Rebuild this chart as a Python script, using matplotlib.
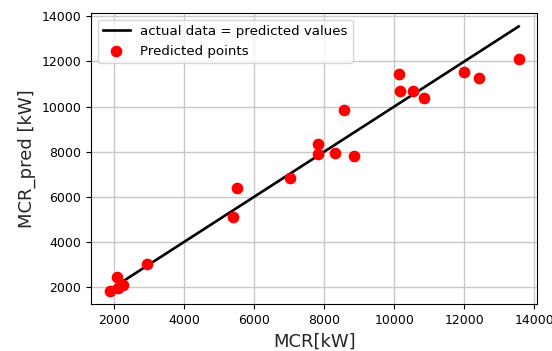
import matplotlib.pyplot as plt
import numpy as np

# values
mcr_actual = np.array([1885, 2077, 2095, 2238, 2937, 5401, 5516, 7014, 7825, 7825,
                       8312, 8839, 8569, 10145, 10174, 10546, 10844, 11990, 12420, 13554])
mcr_pred = np.array([1836, 2430, 1942, 2075, 3021, 5095, 6409, 6826, 8331, 7892,
                     7950, 7803, 9845, 11457, 10689, 10702, 10392, 11515, 11280, 12092])

fig = plt.figure(figsize=(5.52, 3.51), dpi=100)
ax = fig.add_axes([0.165, 0.134, 0.808, 0.829])

lims = np.array([mcr_actual.min(), mcr_actual.max()])
ax.plot(lims, lims, '-k', lw=1.9, label='actual data = predicted values')
ax.scatter(mcr_actual, mcr_pred, s=55, color='red', label='Predicted points', zorder=3)

ax.set_xlim(1340, 14080)
ax.set_ylim(1245, 14150)
ax.set_xticks(np.arange(2000, 14001, 2000))
ax.set_yticks(np.arange(2000, 14001, 2000))
ax.tick_params(labelsize=9)
ax.set_xlabel('MCR[kW]', fontsize=13, color='#262626')
ax.set_ylabel('MCR_pred [kW]', fontsize=13, color='#262626')
ax.grid(color='#c8c8c8', lw=1)
ax.set_axisbelow(True)
ax.legend(loc='upper left', fontsize=9.6)

fig.savefig('out.png', dpi=100)
